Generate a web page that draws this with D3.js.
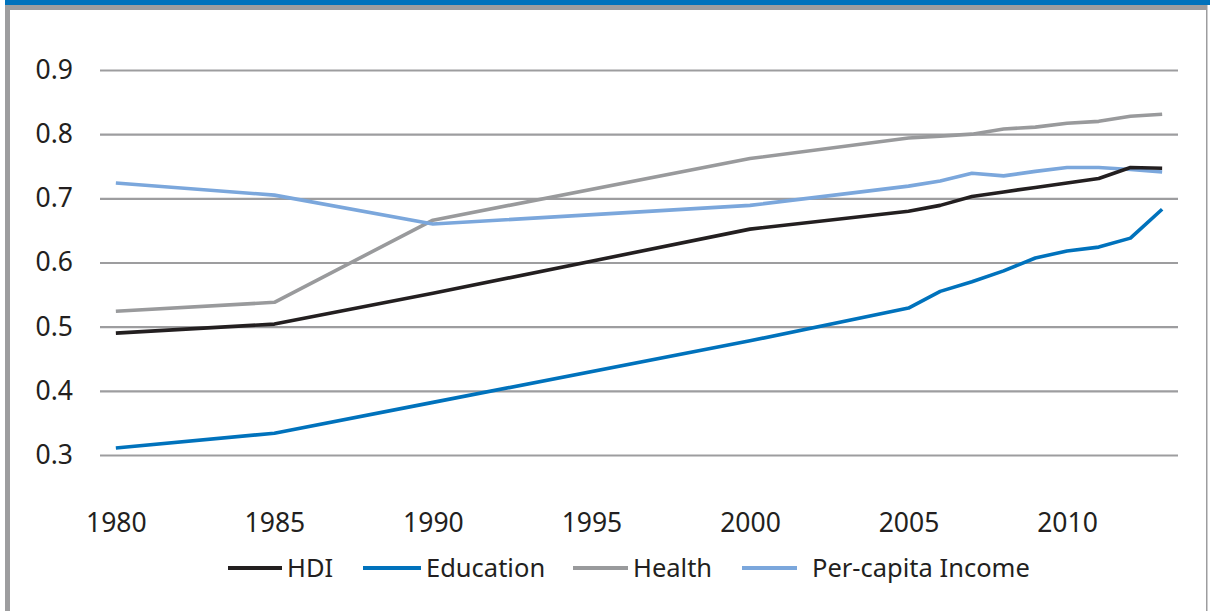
<!DOCTYPE html>
<html><head><meta charset="utf-8">
<script src="https://cdn.jsdelivr.net/npm/d3@7"></script>
<style>
html,body{margin:0;padding:0;background:#fff;}
svg{display:block;font-family:"Noto Sans",sans-serif;}
</style></head>
<body>
<svg id="c" width="1210" height="611"></svg>
<script>
const years = [1980,1985,1990,2000,2005,2006,2007,2008,2009,2010,2011,2012,2013];
const hdi = [0.490,0.504,0.552,0.652,0.680,0.689,0.703,0.710,0.717,0.724,0.731,0.748,0.747];
const education = [0.311,0.334,0.382,0.478,0.529,0.555,0.570,0.587,0.607,0.618,0.624,0.638,0.683];
const health = [0.524,0.538,0.666,0.762,0.794,0.797,0.800,0.808,0.811,0.817,0.820,0.828,0.831];
const income = [0.724,0.705,0.660,0.689,0.719,0.727,0.739,0.735,0.742,0.748,0.748,0.745,0.741];
const seriesNames = ["HDI","Education","Health","Per-capita Income"];
const seriesColors = ["#231f20","#0072bc","#999a9c","#7ba7dc"];
const yTicks = [0.3,0.4,0.5,0.6,0.7,0.8,0.9];
const xTicks = [1980,1985,1990,1995,2000,2005,2010];

const svg = d3.select("#c");
// frame
svg.append("rect").attr("x",5).attr("y",0).attr("width",1205).attr("height",5).attr("fill","#0072bc");
svg.append("rect").attr("x",5).attr("y",5).attr("width",1202).attr("height",5).attr("fill","#9d9d9f");
svg.append("rect").attr("x",5).attr("y",5).attr("width",5).attr("height",606).attr("fill","#9d9d9f");
svg.append("rect").attr("x",1206).attr("y",5).attr("width",1.5).attr("height",606).attr("fill","#9d9d9f");

const x = d3.scaleLinear().domain([1979.5,2013.5]).range([100,1178]);
const y = d3.scaleLinear().domain([0.3,0.9]).range([455,70]);

// grid
const yAxis = d3.axisLeft(y).tickValues(yTicks).tickSize(-(1178-100)).tickPadding(27).tickFormat(d3.format(".1f"));
const gy = svg.append("g").attr("transform","translate(100,0)").call(yAxis);
gy.select(".domain").remove();
gy.selectAll(".tick line").attr("stroke","#9d9d9f").attr("stroke-width",2.2);
gy.selectAll(".tick text").attr("font-size",26.5).attr("fill","#231f20").attr("font-family","'Noto Sans',sans-serif");

const xAxis = d3.axisBottom(x).tickValues(xTicks).tickSize(0).tickPadding(58).tickFormat(d3.format("d"));
const gx = svg.append("g").attr("transform","translate(0,455)").call(xAxis);
gx.select(".domain").remove();
gx.selectAll(".tick text").attr("font-size",26.5).attr("fill","#231f20").attr("font-family","'Noto Sans',sans-serif");

const allSeries = [hdi,education,health,income];
const line = d3.line().x((d,i)=>x(years[i])).y(d=>y(d));
[2,3,0,1].forEach(k=>{
  svg.append("path").datum(allSeries[k]).attr("d",line)
    .attr("fill","none").attr("stroke",seriesColors[k]).attr("stroke-width",3.6)
    .attr("stroke-linejoin","round");
});

// legend
const legX = [228,363,573,742];
const legLen = [54,58,55,55];
const lg = svg.append("g");
seriesNames.forEach((n,i)=>{
  lg.append("line").attr("x1",legX[i]).attr("x2",legX[i]+legLen[i]).attr("y1",568).attr("y2",568)
    .attr("stroke",seriesColors[i]).attr("stroke-width",4);
  lg.append("text").attr("x",legX[i]+legLen[i]+(i==3?15:5)).attr("y",577).attr("font-size",25.5)
    .attr("fill","#231f20").text(n);
});
</script>
</body></html>
